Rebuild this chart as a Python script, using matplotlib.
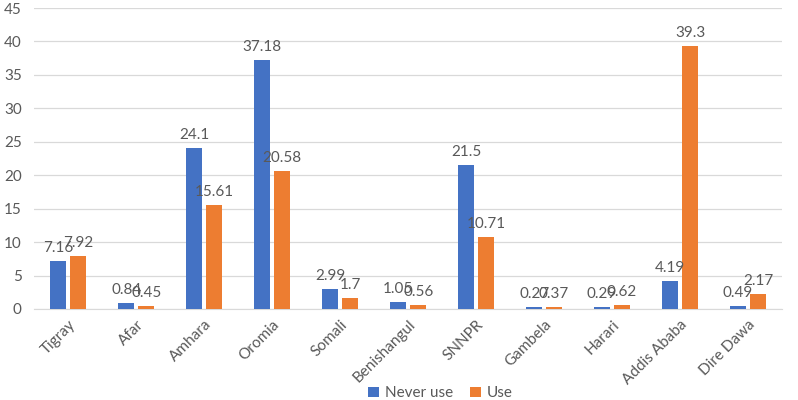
import matplotlib.pyplot as plt
import numpy as np

plt.rcParams['font.family'] = ['Lato', 'DejaVu Sans']

regions = ['Tigray', 'Afar', 'Amhara', 'Oromia', 'Somali', 'Benishangul',
           'SNNPR', 'Gambela', 'Harari', 'Addis Ababa', 'Dire Dawa']
never_use = [7.16, 0.84, 24.1, 37.18, 2.99, 1.05, 21.5, 0.27, 0.29, 4.19, 0.49]
use = [7.92, 0.45, 15.61, 20.58, 1.7, 0.56, 10.71, 0.37, 0.62, 39.3, 2.17]

blue = '#4472C4'
orange = '#ED7D31'
grey = '#595959'

fig = plt.figure(figsize=(7.98, 4.0), dpi=100)
ax = fig.add_axes([0.043, 0.2275, 0.937, 0.7525])

x = np.arange(len(regions))
w = 0.235
off = 0.147
b1 = ax.bar(x - off, never_use, w, color=blue, label='Never use', zorder=3)
b2 = ax.bar(x + off, use, w, color=orange, label='Use', zorder=3)

for bars, vals in ((b1, never_use), (b2, use)):
    for b, v in zip(bars, vals):
        ax.text(b.get_x() + b.get_width() / 2, v + 0.9, f'{v:g}',
                ha='center', va='bottom', fontsize=11, color=grey)

ax.set_xlim(-0.5, len(regions) - 0.5)
ax.set_ylim(0, 45)
ax.set_yticks(range(0, 46, 5))
ax.set_xticks(x)
ax.set_xticklabels(regions, rotation=45, ha='right', rotation_mode='anchor',
                   fontsize=11, color=grey)
ax.tick_params(axis='y', labelsize=11, labelcolor=grey, length=0, pad=9)
ax.tick_params(axis='x', length=0, pad=6)
ax.grid(axis='y', color='#D9D9D9', linewidth=0.9, zorder=0)
for s in ('top', 'right', 'left'):
    ax.spines[s].set_visible(False)
ax.spines['bottom'].set_color('#D9D9D9')

fig.legend(loc='lower center', bbox_to_anchor=(0.552, -0.035), ncol=2, frameon=False,
           fontsize=11, labelcolor=grey, handlelength=0.7, handleheight=0.7,
           columnspacing=1.1, handletextpad=0.4)

fig.savefig('out.png', dpi=100)
